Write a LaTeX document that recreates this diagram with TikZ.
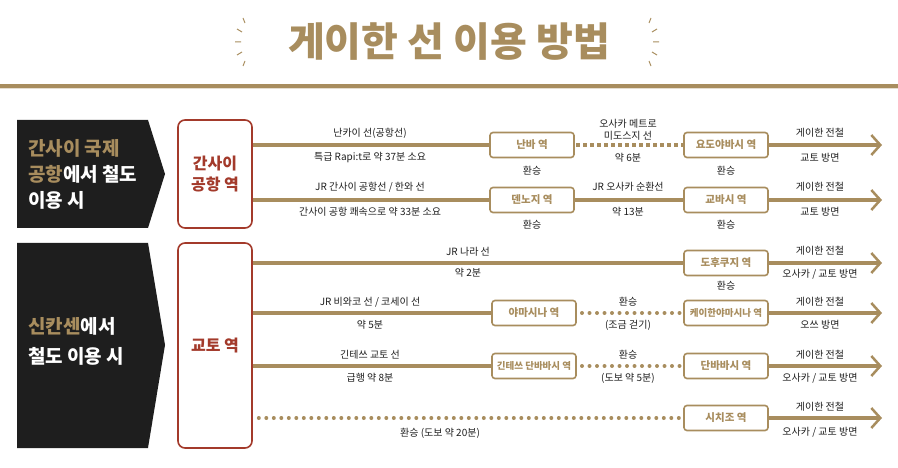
\documentclass[tikz,border=0pt]{standalone}
\usepackage{fontspec}
\setmainfont{Noto Sans CJK KR}
\usetikzlibrary{arrows.meta}
\definecolor{gold}{HTML}{A88D5E}
\definecolor{redc}{HTML}{A33A2B}
\definecolor{blk}{HTML}{1E1E1E}
\tikzset{
  stbox/.style={draw=gold,line width=1.6pt,rounded corners=3pt,fill=white,text=gold,font=\fontsize{10.5}{12}\selectfont\bfseries,inner sep=0pt,minimum width=84pt,minimum height=25pt},
  stsmall/.style={stbox,font=\fontsize{9.5}{11}\selectfont\bfseries},
  origin/.style={draw=redc,line width=1.6pt,rounded corners=7pt,fill=white,text=redc,font=\fontsize{16}{21}\selectfont\bfseries,align=center,inner sep=0pt},
  lbl/.style={font=\fontsize{10}{12}\selectfont,text=blk,align=center,inner sep=0pt},
  rail/.style={draw=gold,line width=4.5pt},
  dotted rail/.style={draw=gold,line width=4pt,line cap=round,dash pattern=on 0pt off 7.5pt},
  sq rail/.style={draw=gold,line width=4.5pt,dash pattern=on 4pt off 3pt},
  arr/.style={draw=gold,line width=4.5pt,-{Straight Barb[length=9pt,width=20pt,line width=2.5pt]}},
  side/.style={fill=blk},
  sidetext/.style={font=\fontsize{19}{26}\selectfont\bfseries,text=white,align=left,anchor=west,inner sep=0pt},
}
\begin{document}
\begin{tikzpicture}[x=1pt,y=-1pt]
\useasboundingbox (0,0) rectangle (898,468);
% title
\node[text=gold,font=\fontsize{40}{46}\selectfont\bfseries] (title) at (449,42) {게이한 선 이용 방법};
\foreach \cx/\s in {243/1,651/-1}{
  \draw[gold,line width=1pt] (\cx,18)--++(\s*2,5) (\cx-\s*6,29)--++(\s*5,3) (\cx-\s*8,42)--++(\s*6,0) (\cx-\s*6,55)--++(\s*5,-3) (\cx,66)--++(\s*2,-5);
}
\fill[gold] (0,84.5) rectangle (898,88);
\fill[gold!30] (0,88) rectangle (898,89.5);
% side pentagons
\fill[side] (17,120)--(148,120)--(165,174)--(148,228)--(17,228)--cycle;
\node[sidetext] (s1) at (28,174) {\textcolor{gold}{간사이 국제}\\\textcolor{gold}{공항}에서 철도\\이용 시};
\fill[side] (17,243)--(148,243)--(165,345)--(148,448)--(17,448)--cycle;
\node[sidetext,font=\fontsize{19}{30}\selectfont\bfseries] (s2) at (28,341) {\textcolor{gold}{신칸센}에서\\철도 이용 시};
% origin boxes
\node[origin,minimum width=74pt,minimum height=108pt] (kix) at (215,174) {간사이\\공항 역};
\node[origin,minimum width=74pt,minimum height=205pt] (kyo) at (215,345.5) {교토 역};
% station coordinates
\coordinate (namba) at (532,145);
\coordinate (yodo) at (726,145);
\coordinate (tenn) at (532,200);
\coordinate (kyob) at (726,200);
\coordinate (tofu) at (726,263);
\coordinate (yama) at (534,313);
\coordinate (kyama) at (726,313);
\coordinate (ktan) at (534,366);
\coordinate (tan) at (726,366);
\coordinate (shi) at (726,418);
\foreach \n/\y in {e1/145,e2/200,e3/263,e4/313,e5/366,e6/418}{\coordinate (\n) at (882,\y);}
% rails
\draw[rail] (kix.east|-namba) -- ([xshift=-40pt]namba);
\draw[sq rail] ([xshift=44pt]namba) -- ([xshift=-42pt]yodo);
\draw[arr] ([xshift=42pt]yodo) -- (e1);
\draw[rail] (kix.east|-tenn) -- ([xshift=-40pt]tenn);
\draw[rail] ([xshift=40pt]tenn) -- ([xshift=-40pt]kyob);
\draw[arr] ([xshift=42pt]kyob) -- (e2);
\draw[rail] (kyo.east|-tofu) -- ([xshift=-40pt]tofu);
\draw[arr] ([xshift=42pt]tofu) -- (e3);
\draw[rail] (kyo.east|-yama) -- ([xshift=-40pt]yama);
\draw[dotted rail] ([xshift=48pt]yama) -- ([xshift=-45pt]kyama);
\draw[arr] ([xshift=42pt]kyama) -- (e4);
\draw[rail] (kyo.east|-ktan) -- ([xshift=-40pt]ktan);
\draw[dotted rail] ([xshift=48pt]ktan) -- ([xshift=-45pt]tan);
\draw[arr] ([xshift=42pt]tan) -- (e5);
\draw[dotted rail] ([xshift=6pt]kyo.east|-shi) -- ([xshift=-45pt]shi);
\draw[arr] ([xshift=42pt]shi) -- (e6);
% stations
\node[stbox] (n1) at (namba) {난바 역};
\node[stbox] (n2) at (yodo) {요도야바시 역};
\node[stbox] (n3) at (tenn) {덴노지 역};
\node[stbox] (n4) at (kyob) {교바시 역};
\node[stbox] (n5) at (tofu) {도후쿠지 역};
\node[stbox] (n6) at (yama) {야마시나 역};
\node[stsmall] (n7) at (kyama) {케이한야마시나 역};
\node[stsmall] (n8) at (ktan) {긴테쓰 단바바시 역};
\node[stbox] (n9) at (tan) {단바바시 역};
\node[stbox] (n10) at (shi) {시치조 역};
% labels
\node[lbl] (l1a) at (370,133) {난카이 선(공항선)};
\node[lbl] (l1b) at (370,158) {특급 Rapi:t로 약 37분 소요};
\node[lbl] (l1c) at (628,130) {오사카 메트로\\미도스지 선};
\node[lbl] (l1d) at (628,158) {약 6분};
\node[lbl] (h1) at (532,171) {환승};
\node[lbl] (h2) at (726,171) {환승};
\node[lbl] (r1a) at (820,133) {게이한 전철};
\node[lbl] (r1b) at (820,158) {교토 방면};
\node[lbl] (l2a) at (370,187) {JR 간사이 공항선 / 한와 선};
\node[lbl] (l2b) at (370,212) {간사이 공항 쾌속으로 약 33분 소요};
\node[lbl] (l2c) at (628,187) {JR 오사카 순환선};
\node[lbl] (l2d) at (628,212) {약 13분};
\node[lbl] (h3) at (532,225) {환승};
\node[lbl] (h4) at (726,225) {환승};
\node[lbl] (r2a) at (820,187) {게이한 전철};
\node[lbl] (r2b) at (820,212) {교토 방면};
\node[lbl] (l3a) at (468,252) {JR 나라 선};
\node[lbl] (l3b) at (468,273) {약 2분};
\node[lbl] (h5) at (726,286) {환승};
\node[lbl] (r3a) at (820,251) {게이한 전철};
\node[lbl] (r3b) at (820,274) {오사카 / 교토 방면};
\node[lbl] (l4a) at (370,302) {JR 비와코 선 / 코세이 선};
\node[lbl] (l4b) at (370,325) {약 5분};
\node[lbl] (l4c) at (628,302) {환승};
\node[lbl] (l4d) at (628,325) {(조금 걷기)};
\node[lbl] (r4a) at (820,302) {게이한 전철};
\node[lbl] (r4b) at (820,325) {오쓰 방면};
\node[lbl] (l5a) at (370,355) {긴테쓰 교토 선};
\node[lbl] (l5b) at (370,378) {급행 약 8분};
\node[lbl] (l5c) at (628,355) {환승};
\node[lbl] (l5d) at (628,378) {(도보 약 5분)};
\node[lbl] (r5a) at (820,355) {게이한 전철};
\node[lbl] (r5b) at (820,378) {오사카 / 교토 방면};
\node[lbl] (l6) at (440,433) {환승 (도보 약 20분)};
\node[lbl] (r6a) at (820,407) {게이한 전철};
\node[lbl] (r6b) at (820,432) {오사카 / 교토 방면};
\end{tikzpicture}
\end{document}
